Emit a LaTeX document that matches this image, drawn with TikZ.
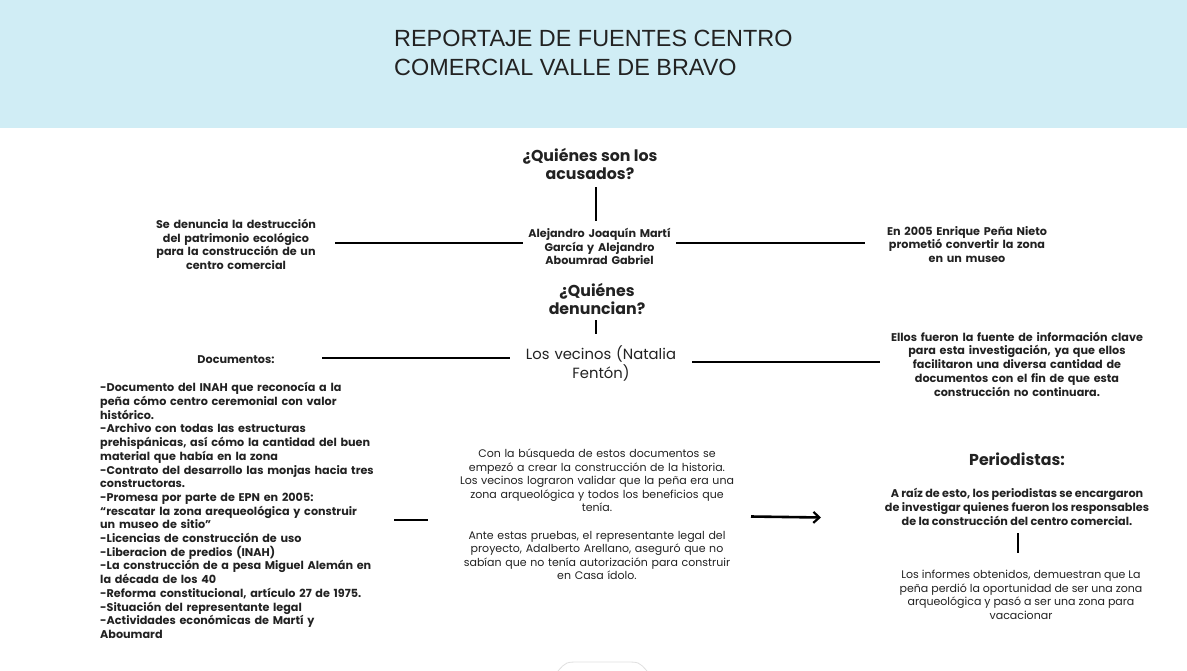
\documentclass[tikz,border=0pt]{standalone}
\usepackage{fontspec}
\setmainfont{Poppins}
\newfontfamily\titlefont{Liberation Sans}
\usetikzlibrary{arrows.meta}
\definecolor{band}{RGB}{208,237,245}
\definecolor{ink}{RGB}{34,34,34}
\tikzset{
  conn/.style={line width=2.9pt, black},
  bsm/.style={font=\bfseries\fontsize{11.2}{13.7}\selectfont, text=ink, align=center, inner sep=0pt},
  rsm/.style={font=\fontsize{11}{13.6}\selectfont, text=ink, align=center, inner sep=0pt},
  qhead/.style={font=\bfseries\fontsize{15.8}{18.5}\selectfont, text=ink, align=center, inner sep=0pt},
}
\begin{document}
\begin{tikzpicture}[x=1pt,y=-1pt]
\useasboundingbox (0,0) rectangle (1187,670);
\fill[white] (0,0) rectangle (1187,670);
\fill[band] (0,0) rectangle (1187,128);
% bottom tab
\draw[black!12, line width=0.8pt, fill=white] (558,671) .. controls (566,662) .. (580,662) -- (625,662) .. controls (639,662) .. (647,671);

\node[font=\titlefont\fontsize{23.4}{29}\selectfont, text=ink, align=left, anchor=west, inner sep=0pt] (title) at (394,52.5) {REPORTAJE DE FUENTES CENTRO\\COMERCIAL VALLE DE BRAVO};

\node[qhead] (q1) at (590,164) {¿Quiénes son los\\acusados?};
\node[bsm, text width=153pt] (acc) at (599.5,246.5) {Alejandro Joaquín Martí\\García y Alejandro\\Aboumrad Gabriel};
\node[bsm, text width=198pt] (left1) at (236,244.5) {Se denuncia la destrucción\\del patrimonio ecológico\\para la construcción de un\\centro comercial};
\node[bsm, text width=204pt] (right1) at (967,244.5) {En 2005 Enrique Peña Nieto\\prometió convertir la zona\\en un museo};

\node[qhead] (q2) at (597,299) {¿Quiénes\\denuncian?};
\node[font=\fontsize{14.8}{19}\selectfont, text=ink, align=center, inner sep=0pt, text width=182pt] (vec) at (601,363.5) {Los vecinos (Natalia\\Fentón)};
\node[bsm, text width=172pt] (docs) at (236,360) {Documentos:};
\node[bsm, text width=274pt] (ellos) at (1017,364) {Ellos fueron la fuente de información clave\\para esta investigación, ya que ellos\\facilitaron una diversa cantidad de\\documentos con el fin de que esta\\construcción no continuara.};

\node[bsm, align=left, anchor=west, text width=294pt] (list) at (100,510.5) {-Documento del INAH que reconocía a la\\peña cómo centro ceremonial con valor\\histórico.\\-Archivo con todas las estructuras\\prehispánicas, así cómo la cantidad del buen\\material que había en la zona\\-Contrato del desarrollo las monjas hacia tres\\constructoras.\\-Promesa por parte de EPN en 2005:\\“rescatar la zona arequeológica y construir\\un museo de sitio”\\-Licencias de construcción de uso\\-Liberacion de predios (INAH)\\-La construcción de a pesa Miguel Alemán en\\la década de los 40\\-Reforma constitucional, artículo 27 de 1975.\\-Situación del representante legal\\-Actividades económicas de Martí y\\Aboumard};

\node[rsm, text width=300pt] (mid) at (597,514.5) {Con la búsqueda de estos documentos se\\empezó a crear la construcción de la historia.\\Los vecinos lograron validar que la peña era una\\zona arqueológica y todos los beneficios que\\tenía.\\[13.6pt]Ante estas pruebas, el representante legal del\\proyecto, Adalberto Arellano, aseguró que no\\sabían que no tenía autorización para construir\\en Casa ídolo.};

\node[qhead] (peri) at (1017,459) {Periodistas:};
\node[bsm] (araiz) at (1017,507) {A raíz de esto, los periodistas se encargaron\\de investigar quienes fueron los responsables\\de la construcción del centro comercial.};
\node[rsm] (inf) at (1021,595) {Los informes obtenidos, demuestran que La\\peña perdió la oportunidad de ser una zona\\arqueológica y pasó a ser una zona para\\vacacionar};

% connectors
\draw[conn] (left1.east |- 0,243) -- (acc.west |- 0,243);
\draw[conn] (acc.east |- 0,243) -- (right1.west |- 0,243);
\coordinate (q1b) at (596,187);
\coordinate (acct) at (596,221);
\draw[conn] (q1b) -- (acct);
\draw[conn] (docs.east |- 0,358) -- (vec.west |- 0,358);
\draw[conn] (vec.east |- 0,362) -- (ellos.west |- 0,362);
\coordinate (q2b) at (596,320);
\coordinate (vect) at (596,334);
\draw[conn] (q2b) -- (vect);
\coordinate (s2) at (428,520);
\draw[conn] (list.east |- s2) -- (s2);
\coordinate (a1) at (751,516.5);
\coordinate (a2) at (821,517.5);
\draw[conn, line width=2.6pt, -{Straight Barb[length=6pt,width=11pt,line width=2.2pt]}] (a1) -- (a2);
\coordinate (pb) at (1018,533);
\coordinate (pe) at (1018,553);
\draw[conn] (pb) -- (pe);
\end{tikzpicture}
\end{document}
